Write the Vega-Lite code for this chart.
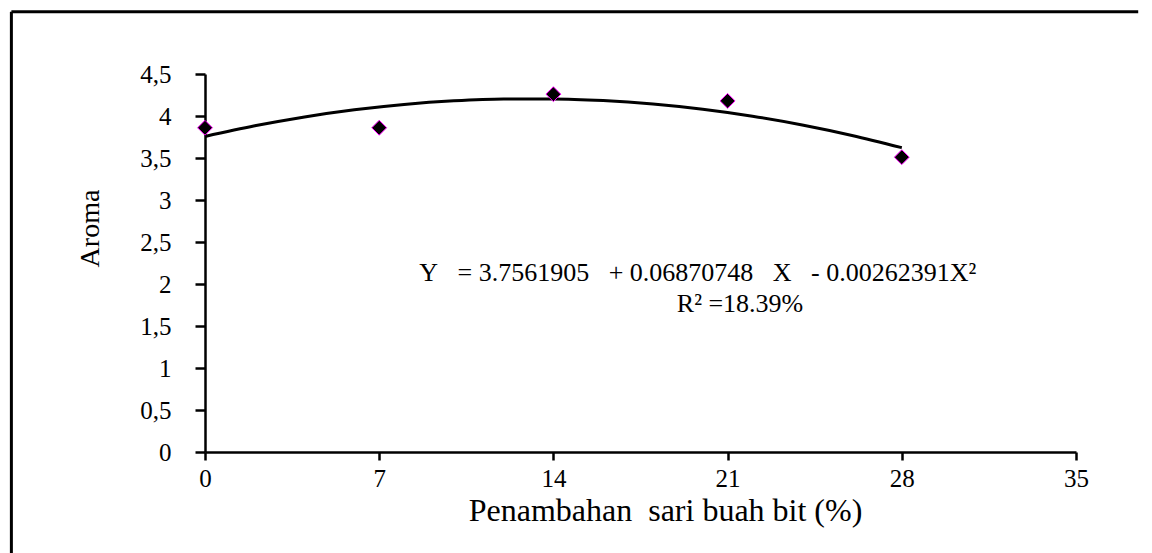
{
  "$schema": "https://vega.github.io/schema/vega-lite/v6.json",
  "usermeta": {"embedOptions": {"actions": false}},
  "width": 871,
  "height": 378,
  "autosize": "none",
  "padding": {"left": 205, "top": 74, "right": 76, "bottom": 101},
  "background": "white",
  "config": {
    "view": {"stroke": null},
    "font": "Liberation Serif",
    "axis": {"grid": false, "labelFont": "Liberation Serif", "titleFont": "Liberation Serif", "labelColor": "black", "titleColor": "black", "domainColor": "black", "tickColor": "black", "titleFontWeight": "normal"}
  },
  "datasets": {
    "curve": [
      {"x": 0, "y": 3.7562}, {"x": 2, "y": 3.8831}, {"x": 4, "y": 3.9891}, {"x": 6, "y": 4.074},
      {"x": 8, "y": 4.1379}, {"x": 10, "y": 4.1809}, {"x": 12, "y": 4.2028}, {"x": 14, "y": 4.2038},
      {"x": 16, "y": 4.1838}, {"x": 18, "y": 4.1428}, {"x": 20, "y": 4.0808}, {"x": 22, "y": 3.9978},
      {"x": 24, "y": 3.8938}, {"x": 26, "y": 3.7688}, {"x": 28, "y": 3.6229}
    ],
    "observed": [
      {"x": 0, "y": 3.86}, {"x": 7, "y": 3.86}, {"x": 14, "y": 4.26}, {"x": 21, "y": 4.18}, {"x": 28, "y": 3.51}
    ],
    "equation": [
      {"x": 19.8, "y": 2.035, "label": "Y\u00a0\u00a0\u00a0= 3.7561905\u00a0\u00a0\u00a0+ 0.06870748\u00a0\u00a0\u00a0X\u00a0\u00a0\u00a0- 0.00262391X²"},
      {"x": 21.5, "y": 1.67, "label": "R² =18.39%"}
    ],
    "frame": [
      {"x": -7.78, "x2": 37.5, "y": 5.242, "y2": 5.242},
      {"x": -7.78, "x2": -7.78, "y": 5.242, "y2": -1.6}
    ]
  },
  "encoding": {
    "x": {
      "field": "x", "type": "quantitative",
      "scale": {"domain": [0, 35], "nice": false, "zero": false},
      "axis": {
        "title": "Penambahan\u00a0\u00a0sari\u00a0buah\u00a0bit\u00a0(%)",
        "values": [0, 7, 14, 21, 28, 35],
        "domainWidth": 2.5, "tickWidth": 2.5, "tickSize": 8,
        "labelFontSize": 25, "labelPadding": 6, "labelFlush": false,
        "titleFontSize": 32, "titlePadding": 4, "titleX": 460
      }
    },
    "y": {
      "field": "y", "type": "quantitative",
      "scale": {"domain": [0, 4.5], "nice": false, "zero": false},
      "axis": {
        "title": "Aroma",
        "values": [0, 0.5, 1, 1.5, 2, 2.5, 3, 3.5, 4, 4.5],
        "labelExpr": "replace(format(datum.value, ''), '.', ',')",
        "domainWidth": 2.5, "tickWidth": 2.5, "tickSize": 10,
        "labelFontSize": 25, "labelPadding": 24, "labelFlush": false,
        "titleFontSize": 28, "titleAngle": -90, "titleBaseline": "alphabetic",
        "titleX": -107, "titleY": 154, "titleAlign": "center"
      }
    }
  },
  "layer": [
    {
      "data": {"name": "frame"},
      "mark": {"type": "rule", "color": "black", "strokeWidth": 3, "clip": false},
      "encoding": {"x2": {"field": "x2"}, "y2": {"field": "y2"}}
    },
    {
      "data": {"name": "curve"},
      "mark": {"type": "line", "color": "black", "strokeWidth": 3, "interpolate": "monotone"}
    },
    {
      "data": {"name": "observed"},
      "mark": {"type": "point", "shape": "diamond", "filled": true, "fill": "black", "stroke": "#ff00ff", "strokeWidth": 1, "size": 220, "opacity": 1}
    },
    {
      "data": {"name": "equation"},
      "mark": {"type": "text", "fontSize": 26, "align": "center", "baseline": "alphabetic", "color": "black", "font": "Liberation Serif"},
      "encoding": {"text": {"field": "label"}}
    }
  ]
}
